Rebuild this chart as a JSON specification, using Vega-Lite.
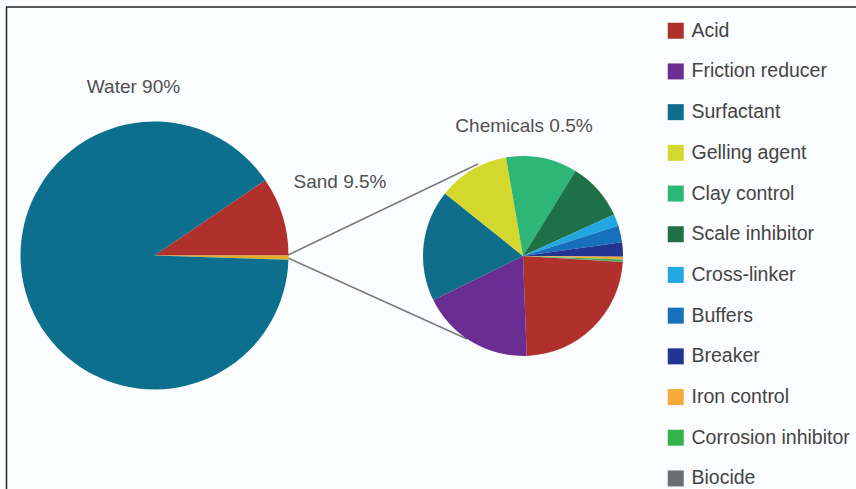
{
  "$schema": "https://vega.github.io/schema/vega-lite/v6.json",
  "width": 856,
  "height": 489,
  "autosize": {"type": "none"},
  "padding": 0,
  "background": "#fbfcfd",
  "config": {"view": {"stroke": null}, "font": "Liberation Sans"},
  "layer": [
    {
      "data": {"values": [{"edge": "left"}]},
      "mark": {"type": "rule", "color": "#222222", "strokeWidth": 1.5},
      "encoding": {
        "x": {"datum": 6.5, "type": "quantitative", "scale": {"domain": [0, 856], "nice": false, "zero": false}, "axis": null},
        "y": {"datum": 7, "type": "quantitative", "scale": {"domain": [0, 489], "nice": false, "zero": false, "reverse": true}, "axis": null},
        "y2": {"datum": 489}
      }
    },
    {
      "data": {"values": [{"edge": "top"}]},
      "mark": {"type": "rule", "color": "#222222", "strokeWidth": 1.5},
      "encoding": {
        "x": {"datum": 6, "type": "quantitative"},
        "x2": {"datum": 856},
        "y": {"datum": 7, "type": "quantitative"}
      }
    },
    {
      "data": {"values": [{"link": "upper"}]},
      "mark": {"type": "rule", "color": "#7a7a7a", "strokeWidth": 1.4},
      "encoding": {
        "x": {"datum": 288, "type": "quantitative"},
        "y": {"datum": 255, "type": "quantitative"},
        "x2": {"datum": 478},
        "y2": {"datum": 164}
      }
    },
    {
      "data": {"values": [{"link": "lower"}]},
      "mark": {"type": "rule", "color": "#7a7a7a", "strokeWidth": 1.4},
      "encoding": {
        "x": {"datum": 288, "type": "quantitative"},
        "y": {"datum": 258, "type": "quantitative"},
        "x2": {"datum": 467},
        "y2": {"datum": 339}
      }
    },
    {
      "data": {"values": [
        {"part": "Sand", "pct": 9.5, "i": 1},
        {"part": "Chemicals", "pct": 0.5, "i": 2},
        {"part": "Water", "pct": 90, "i": 3}
      ]},
      "mark": {"type": "arc", "radius": 134, "strokeWidth": 0},
      "encoding": {
        "x": {"datum": 154.5, "type": "quantitative"},
        "y": {"datum": 255.5, "type": "quantitative"},
        "theta": {"field": "pct", "type": "quantitative", "stack": true, "scale": {"range": [0.974, 7.257]}},
        "order": {"field": "i", "type": "quantitative"},
        "color": {"field": "part", "type": "nominal", "scale": {"domain": ["Water", "Sand", "Chemicals"], "range": ["#0b6f8d", "#b0302c", "#e0b02a"]}, "legend": null}
      }
    },
    {
      "data": {"values": [
        {"chemical": "Acid", "pct": 23.4, "i": 1},
        {"chemical": "Friction reducer", "pct": 18.3, "i": 2},
        {"chemical": "Surfactant", "pct": 18.0, "i": 3},
        {"chemical": "Gelling agent", "pct": 11.5, "i": 4},
        {"chemical": "Clay control", "pct": 11.5, "i": 5},
        {"chemical": "Scale inhibitor", "pct": 9.4, "i": 6},
        {"chemical": "Cross-linker", "pct": 1.9, "i": 7},
        {"chemical": "Buffers", "pct": 2.7, "i": 8},
        {"chemical": "Breaker", "pct": 2.3, "i": 9},
        {"chemical": "Iron control", "pct": 0.45, "i": 10},
        {"chemical": "Corrosion inhibitor", "pct": 0.3, "i": 11},
        {"chemical": "Biocide", "pct": 0.1, "i": 12}
      ]},
      "mark": {"type": "arc", "radius": 100, "strokeWidth": 0},
      "encoding": {
        "x": {"datum": 523, "type": "quantitative"},
        "y": {"datum": 256, "type": "quantitative"},
        "theta": {"field": "pct", "type": "quantitative", "stack": true, "scale": {"range": [1.632, 7.915]}},
        "order": {"field": "i", "type": "quantitative"},
        "color": {
          "field": "chemical",
          "type": "nominal",
          "sort": null,
          "scale": {
            "domain": ["Acid", "Friction reducer", "Surfactant", "Gelling agent", "Clay control", "Scale inhibitor", "Cross-linker", "Buffers", "Breaker", "Iron control", "Corrosion inhibitor", "Biocide"],
            "range": ["#b0302c", "#6a2d91", "#0e6e8b", "#d4d82c", "#2db676", "#1e7146", "#22a8e0", "#1670bc", "#223593", "#f5a93a", "#35b34a", "#6d6e70"]
          },
          "legend": {
            "title": null,
            "orient": "none",
            "legendX": 666,
            "legendY": 21,
            "padding": 0,
            "symbolType": "square",
            "symbolSize": 256,
            "symbolStrokeWidth": 0,
            "symbolOpacity": 1,
            "labelFontSize": 19.5,
            "labelFont": "Liberation Sans",
            "labelColor": "#444444",
            "labelOffset": 6,
            "labelLimit": 300,
            "rowPadding": 19.7
          }
        }
      }
    },
    {
      "data": {"values": [{"label": "Water 90%"}]},
      "mark": {"type": "text", "fontSize": 19, "color": "#505050", "align": "center", "baseline": "alphabetic"},
      "encoding": {
        "x": {"datum": 133.5, "type": "quantitative"},
        "y": {"datum": 93, "type": "quantitative"},
        "text": {"field": "label"}
      }
    },
    {
      "data": {"values": [{"label": "Sand 9.5%"}]},
      "mark": {"type": "text", "fontSize": 19, "color": "#505050", "align": "center", "baseline": "alphabetic"},
      "encoding": {
        "x": {"datum": 340, "type": "quantitative"},
        "y": {"datum": 188, "type": "quantitative"},
        "text": {"field": "label"}
      }
    },
    {
      "data": {"values": [{"label": "Chemicals 0.5%"}]},
      "mark": {"type": "text", "fontSize": 19, "color": "#505050", "align": "center", "baseline": "alphabetic"},
      "encoding": {
        "x": {"datum": 524, "type": "quantitative"},
        "y": {"datum": 132, "type": "quantitative"},
        "text": {"field": "label"}
      }
    }
  ],
  "resolve": {"scale": {"theta": "independent", "color": "independent"}}
}
